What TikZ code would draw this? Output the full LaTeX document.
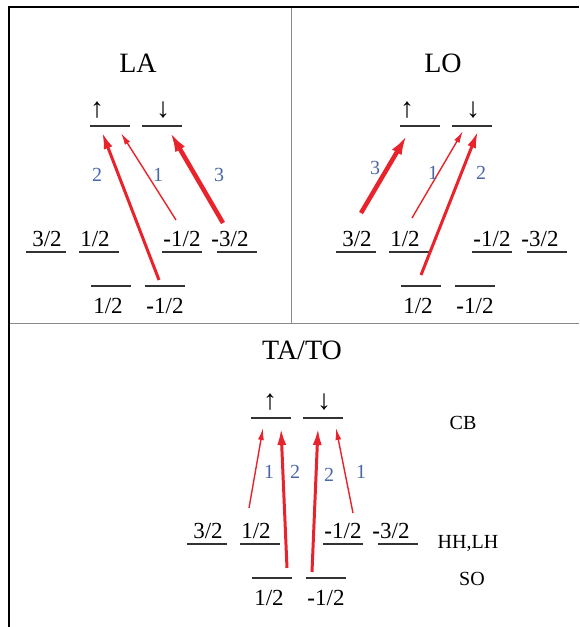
\documentclass[tikz,border=0pt]{standalone}
\usepackage{fontspec}
\setmainfont{Liberation Serif}
\usetikzlibrary{arrows.meta}
\definecolor{arrowred}{HTML}{E8232B}
\definecolor{numblue}{HTML}{4B68A6}
\definecolor{framegray}{HTML}{8A8A8A}
\definecolor{levelgray}{HTML}{333333}

\begin{document}
\begin{tikzpicture}[x=1pt,y=-1pt,
    lvl/.style={levelgray,line width=1.4pt},
    lab/.style={font=\fontsize{23}{25}\selectfont,inner sep=0pt,anchor=base},
    title/.style={font=\fontsize{28}{32}\selectfont},
    num/.style={font=\fontsize{20}{22}\selectfont,text=numblue,inner sep=0pt},
    side/.style={font=\fontsize{20}{22}\selectfont,inner sep=0pt},
    spin/.style={font=\fontsize{28}{30}\selectfont,inner sep=0pt},
    weak/.style={arrowred,line width=1.4pt,-{Latex[length=12pt,width=6pt]}},
    mid/.style={arrowred,line width=3pt,-{Latex[length=17pt,width=9pt]}},
    strong/.style={arrowred,line width=4.5pt,-{Latex[length=20pt,width=11pt]}}]
  \useasboundingbox (0,0) rectangle (579,627);
  \def\levels#1#2{% name prefix, x of the up arrow
    \foreach \n/\x/\y in {cbu/110/126,cbd/162/126,hh3/46/252,lh1/98.5/252,lhm/182/252,hhm/236.5/252,sou/111/286,sod/164.5/286}{
      \coordinate (#1\n) at (\x,\y);
      \draw[lvl] ([xshift=-20pt]#1\n) -- ([xshift=20pt]#1\n);}
    \node[lab] (#1hh3t) at (47,246) {3/2};
    \node[lab] (#1lh1t) at (95,246) {1/2};
    \node[lab] (#1lhmt) at (182,246) {\textbf{-}1/2};
    \node[lab] (#1hhmt) at (230,246) {\textbf{-}3/2};
    \node[lab] (#1sout) at (108,313) {1/2};
    \node[lab] (#1sodt) at (165,313) {\textbf{-}1/2};
    \node[spin] (#1up) at (#2,110) {↑};
    \node[spin] (#1dn) at (163,110) {↓};}
  % frame
  \draw[framegray,line width=1pt] (291,7) -- (291,323) (9,323) -- (579,323);
  \draw[black,line width=1.6pt] (579,7) -- (9,7) -- (9,627);
  % LA
  \begin{scope}
    \levels{la}{97}
    \node[title] (latitle) at (138,63) {LA};
    \draw[weak] ([shift={(-6,-32)}]lalhm) -- ([shift={(11,7)}]lacbu);
    \draw[mid] ([shift={(-5.5,-6)}]lasod) -- ([shift={(-8,6)}]lacbu);
    \draw[strong] ([shift={(-13.5,-29)}]lahhm) -- ([shift={(8,6)}]lacbd);
    \node[num] (la2) at (97,175) {2};
    \node[num] (la1) at (158,175) {1};
    \node[num] (la3) at (219,175) {3};
  \end{scope}
  % LO
  \begin{scope}[shift={(310,0)}]
    \levels{lo}{97}
    \node[title] (lotitle) at (133,63) {LO};
    \draw[strong] ([shift={(5,-39)}]lohh3) -- ([shift={(-13,9)}]locbu);
    \draw[weak] ([shift={(3.5,-34)}]lolh1) -- ([shift={(-9,5)}]locbd);
    \draw[mid] ([shift={(0,-11)}]losou) -- ([shift={(6,5)}]locbd);
    \node[num] (lo3) at (65,168) {3};
    \node[num] (lo1) at (123,173) {1};
    \node[num] (lo2) at (171,173) {2};
  \end{scope}
  % TA/TO
  \begin{scope}[shift={(161,292)}]
    \levels{ta}{109}
    \node[title] (tatitle) at (141,58) {TA/TO};
    \draw[weak] ([shift={(-10.5,-36)}]talh1) -- ([shift={(-8,10)}]tacbu);
    \draw[mid] ([shift={(15,-10)}]tasou) -- ([shift={(10,10)}]tacbu);
    \draw[mid] ([shift={(-13.5,-6)}]tasod) -- ([shift={(-5,10)}]tacbd);
    \draw[weak] ([shift={(10,-31)}]talhm) -- ([shift={(13,10)}]tacbd);
    \node[num] (ta1a) at (108,180) {1};
    \node[num] (ta2a) at (134,180) {2};
    \node[num] (ta2b) at (168,183) {2};
    \node[num] (ta1b) at (200,180) {1};
    \node[side] (cb) at (302,131) {CB};
    \node[side] (hhlh) at (307,251) {HH,LH};
    \node[side] (so) at (311,287) {SO};
  \end{scope}
\end{tikzpicture}
\end{document}
